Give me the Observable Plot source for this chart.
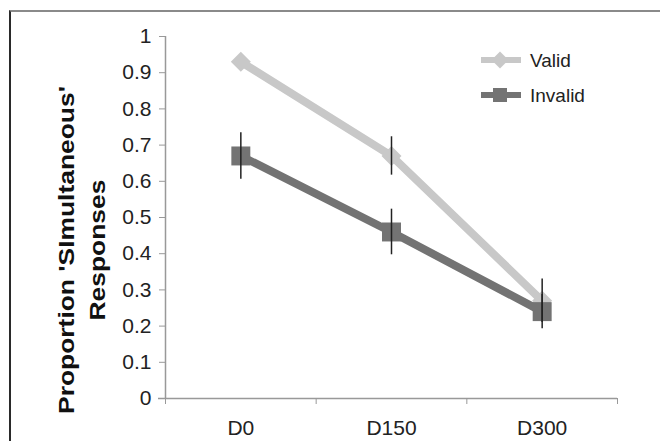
<!DOCTYPE html>
<html>
<head>
<meta charset="utf-8">
<script src="https://cdn.jsdelivr.net/npm/d3@7"></script>
<script src="https://cdn.jsdelivr.net/npm/@observablehq/plot@0.6"></script>
<style>
  html, body { margin: 0; padding: 0; background: #fff; overflow: hidden; }
  #wrap { position: relative; width: 660px; height: 441px; overflow: hidden; font-family: "Liberation Sans", Arial, sans-serif; }
  #frame { position: absolute; left: 9px; top: 10px; width: 700px; height: 500px; border-top: 2px solid #8a8a8a; border-left: 2px solid #2a2a2a; }
  #chart { position: absolute; left: 0; top: 0; }
  #ylabel { position: absolute; left: 82px; top: 250px; transform: translate(-50%, -50%) rotate(-90deg) scale(1.2, 1); text-align: center; font-weight: bold; font-size: 22px; line-height: 31px; white-space: nowrap; color: #111; }
  #legend { position: absolute; left: 478px; top: 44px; }
</style>
</head>
<body>
<div id="wrap">
  <div id="frame"></div>
  <div id="chart"></div>
  <div id="ylabel">Proportion 'SImultaneous'<br>Responses</div>
  <div id="legend"></div>
</div>
<script>
const categories = ["D0", "D150", "D300"];
const validValues = [0.93, 0.67, 0.27];
const invalidValues = [0.67, 0.46, 0.24];
const validErrors = [0, 0.053, 0.06];
const invalidErrors = [0.064, 0.063, 0.047];
const yTicks = [0, 0.1, 0.2, 0.3, 0.4, 0.5, 0.6, 0.7, 0.8, 0.9, 1];

const validColor = "#c8c8c8";
const invalidColor = "#737373";

const toRows = (vals, errs, series) => vals.map((v, i) => ({
  series, cat: categories[i], pos: i + 0.5, value: v, lo: v - errs[i], hi: v + errs[i], err: errs[i]
}));
const valid = toRows(validValues, validErrors, "Valid");
const invalid = toRows(invalidValues, invalidErrors, "Invalid");
const errRows = [...valid, ...invalid].filter(d => d.err > 0);
const bounds = d3.range(categories.length + 1);
const centers = categories.map((c, i) => i + 0.5);

const chart = Plot.plot({
  width: 660,
  height: 441,
  marginLeft: 165,
  marginRight: 43,
  marginTop: 36,
  marginBottom: 43,
  x: { type: "linear", domain: [0, categories.length] },
  y: { domain: [0, 1] },
  style: { fontFamily: "'Liberation Sans', Arial, sans-serif", fontSize: "21px", color: "#222", background: "transparent" },
  marks: [
    Plot.ruleX([0], { stroke: "#999", strokeWidth: 1.5 }),
    Plot.axisY({ ticks: yTicks, tickSize: 6, tickPadding: 8, tickFormat: d => String(d), stroke: "#999", fill: "#222", fontSize: 21, label: null }),
    Plot.ruleY([0], { stroke: "#999", strokeWidth: 1.5, x1: 0, x2: categories.length, insetLeft: -7 }),
    Plot.axisX({ ticks: bounds, tickSize: 6, tickFormat: () => "", stroke: "#999", label: null }),
    Plot.axisX({ ticks: centers, tickSize: 0, tickPadding: 22, tickFormat: d => categories[Math.floor(d)], fill: "#222", fontSize: 21, label: null }),
    Plot.line(valid, { x: "pos", y: "value", stroke: validColor, strokeWidth: 8 }),
    Plot.line(invalid, { x: "pos", y: "value", stroke: invalidColor, strokeWidth: 8 }),
    Plot.dot(valid, { x: "pos", y: "value", symbol: "square", r: 8, rotate: 45, fill: validColor, stroke: null }),
    Plot.dot(invalid, { x: "pos", y: "value", symbol: "square", r: 10.7, fill: invalidColor, stroke: null }),
    Plot.ruleX(errRows, { x: "pos", y1: "lo", y2: "hi", stroke: "#222", strokeWidth: 1.5 })
  ]
});
document.getElementById("chart").appendChild(chart);

// Legend
const legendItems = [
  { label: "Valid", color: validColor, symbol: "diamond" },
  { label: "Invalid", color: invalidColor, symbol: "square" }
];
const lg = d3.select("#legend").append("svg").attr("width", 160).attr("height", 70)
  .style("font-family", "'Liberation Sans', Arial, sans-serif");
legendItems.forEach((it, i) => {
  const g = lg.append("g").attr("transform", `translate(0, ${16 + i * 35})`);
  g.append("line").attr("x1", 3).attr("x2", 43).attr("stroke", it.color).attr("stroke-width", 6);
  if (it.symbol === "diamond") {
    g.append("rect").attr("x", -6).attr("y", -6).attr("width", 12).attr("height", 12)
      .attr("fill", it.color).attr("transform", "translate(22,0) rotate(45)");
  } else {
    g.append("rect").attr("x", 15).attr("y", -7).attr("width", 14).attr("height", 14).attr("fill", it.color);
  }
  g.append("text").attr("x", 52).attr("dy", "0.35em").attr("font-size", 19).attr("fill", "#222").text(it.label);
});
</script>
</body>
</html>
